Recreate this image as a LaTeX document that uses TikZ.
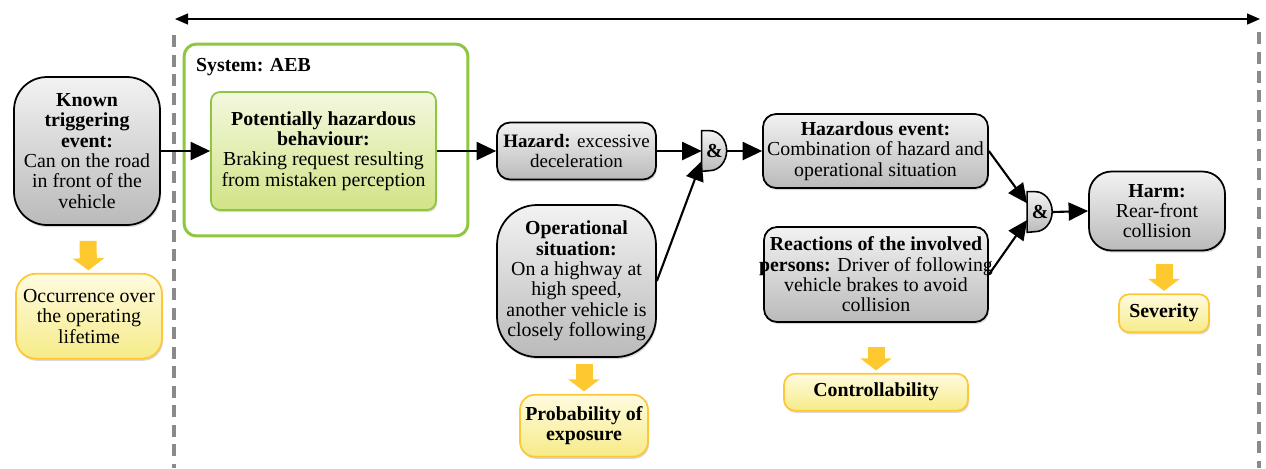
\documentclass[tikz,border=0pt]{standalone}
\usepackage{fontspec}
\setmainfont{Liberation Serif}
\usetikzlibrary{positioning,arrows.meta,shadows,backgrounds}

\definecolor{boxlight}{HTML}{F2F2F2}
\definecolor{boxgray}{HTML}{BABABA}
\definecolor{ratelight}{HTML}{FFFBE0}
\definecolor{ratefill}{HTML}{F6EB88}
\definecolor{rateline}{HTML}{FCC83A}
\definecolor{ratearrow}{HTML}{FDC92F}
\definecolor{sysgreen}{HTML}{8DC63F}
\definecolor{behavlight}{HTML}{F3F8DE}
\definecolor{behavfill}{HTML}{D2E387}
\definecolor{dashgray}{HTML}{8A8A8A}

\begin{document}
\begin{tikzpicture}[
    x=0.02cm, y=-0.02cm, % ein Pixel des Rasters
    every node/.style={font=\fontsize{11.3}{11.6}\selectfont, align=center, inner sep=1pt}, % Schrift der Knoten
    shade/.style={drop shadow={shadow xshift=0.6pt, shadow yshift=-1.2pt, opacity=0.3}}, % leichter Schatten
    item/.style={draw, line width=1pt, top color=boxlight, bottom color=boxgray, shade}, % graue Kaesten
    rating/.style={draw=rateline, line width=1pt, top color=ratelight, bottom color=ratefill, shade}, % gelbe Kaesten
    behav/.style={draw=sysgreen, line width=1pt, top color=behavlight, bottom color=behavfill, rounded corners=0.18cm, shade}, % gruener Kasten
    system/.style={draw=sysgreen, line width=1.7pt, rounded corners=0.25cm}, % Systemgrenze
    gate/.style={minimum width=0.5cm, minimum height=0.8cm, inner sep=0pt, font=\fontsize{11.3}{11.6}\selectfont\bfseries}, % UND-Glied
    gatebody/.style={draw, line width=0.9pt, top color=boxlight, bottom color=boxgray}, % Form des UND-Glieds
    flow/.style={line width=1.2pt, -{Triangle[length=3.9mm,width=3.6mm]}}, % schwarze Pfeile
    rate/.style={draw=ratearrow, line width=0.34cm, -{Triangle[length=0.24cm,width=0.62cm]}, shorten >=0.05cm}, % gelbe Pfeile
    border/.style={draw=dashgray, line width=2.3pt, dash pattern=on 0.24cm off 0.15cm} % gestrichelte Grenzen
]
\useasboundingbox (0,0) rectangle (1266,468);

% Grenzen der Betrachtung
\coordinate (lefttop) at (174,35);
\coordinate (leftbot) at (174,468);
\coordinate (righttop) at (1259,32);
\coordinate (rightbot) at (1259,468);
\coordinate (spanleft) at (175,19);
\coordinate (spanright) at (1260,19);
\draw[border] (lefttop) -- (leftbot);
\draw[border] (righttop) -- (rightbot);
\draw[line width=0.8pt, {Triangle[length=2.6mm,width=2.2mm]}-{Triangle[length=2.6mm,width=2.2mm]}] (spanleft) -- (spanright);

% System
\node[system, minimum width=5.68cm, minimum height=3.84cm] (system) at (326,140) {};
\node[anchor=west, font=\fontsize{11.3}{11.6}\selectfont\bfseries] (systitle) at (194,67) {System: AEB};

% Ereignisse
\node[item, rounded corners=0.66cm, minimum width=2.92cm, minimum height=2.96cm] (known) at (87,151)
    {\textbf{Known}\\\textbf{triggering}\\\textbf{event:}\\Can on the road\\in front of the\\vehicle};
\node[behav, minimum width=4.5cm, minimum height=2.36cm] (behaviour) at (323.5,151)
    {\textbf{Potentially hazardous}\\\textbf{behaviour:}\\Braking request resulting\\from mistaken perception};
\node[item, rounded corners=0.26cm, minimum width=3.18cm, minimum height=1.14cm, font=\fontsize{10.8}{11.6}\selectfont] (hazard) at (576.5,151)
    {\textbf{Hazard:} excessive\\deceleration};
\node[item, rounded corners=0.8cm, minimum width=3.18cm, minimum height=3.04cm] (situation) at (576.5,281)
    {\textbf{Operational}\\\textbf{situation:}\\On a highway at\\high speed,\\another vehicle is\\closely following};
\node[item, rounded corners=0.26cm, minimum width=4.5cm, minimum height=1.48cm] (event) at (875.5,151)
    {\textbf{Hazardous event:}\\Combination of hazard and\\operational situation};
\node[item, rounded corners=0.26cm, minimum width=4.48cm, minimum height=1.9cm] (reaction) at (876,274.5)
    {\textbf{Reactions of the involved}\\\makebox[4.3cm]{\textbf{persons:} Driver of following}\\vehicle brakes to avoid\\collision};
\node[item, rounded corners=0.45cm, minimum width=2.72cm, minimum height=1.58cm] (harm) at (1157,211)
    {\textbf{Harm:}\\Rear-front\\collision};

% UND-Glieder
\node[gate] (and1) at (714.5,151) {\&};
\node[gate] (and2) at (1040,212) {\&};
\begin{scope}[on background layer]
\foreach \g in {and1,and2}
    \draw[gatebody] (\g.north west) -- ++(0.16cm,0) arc[start angle=90, end angle=-90, x radius=0.34cm, y radius=0.4cm] -- (\g.south west) -- cycle;
\end{scope}

% Bewertungen
\node[rating, rounded corners=0.4cm, minimum width=2.92cm, minimum height=1.7cm] (occurrence) [below=0.94cm of known, xshift=0.04cm]
    {Occurrence over\\the operating\\lifetime};
\node[rating, rounded corners=0.3cm, minimum width=2.56cm, minimum height=1.24cm] (exposure) [below=0.72cm of situation, xshift=0.15cm]
    {\textbf{Probability of}\\\textbf{exposure}};
\node[rating, rounded corners=0.22cm, minimum width=3.68cm, minimum height=0.74cm] (control) [below=1cm of reaction]
    {\textbf{Controllability}};
\node[rating, rounded corners=0.2cm, minimum width=1.8cm, minimum height=0.76cm] (severity) [below=0.84cm of harm, xshift=0.14cm]
    {\textbf{Severity}};

% Verbindungslinien
\draw[flow] (known.east) -- (behaviour.west);
\draw[flow] (behaviour.east) -- (hazard.west);
\draw[flow] (hazard.east) -- (and1.west);
\draw[flow] (situation.east) -- (and1.218);
\draw[flow] (and1.east) -- (event.west);
\draw[flow] (event.east) -- (and2.146);
\draw[flow] (reaction.east) -- (and2.212);
\draw[flow] (and2.east) -- (harm.west);

% Pfeile zu den Bewertungen
\draw[rate, shorten <=0.3cm] (known) -- (occurrence);
\draw[rate, shorten <=0.12cm] (exposure.north |- situation.south) -- (exposure.north);
\draw[rate, shorten <=0.48cm] (reaction) -- (control);
\draw[rate, shorten <=0.26cm] (severity.north |- harm.south) -- (severity.north);

\end{tikzpicture}
\end{document}
